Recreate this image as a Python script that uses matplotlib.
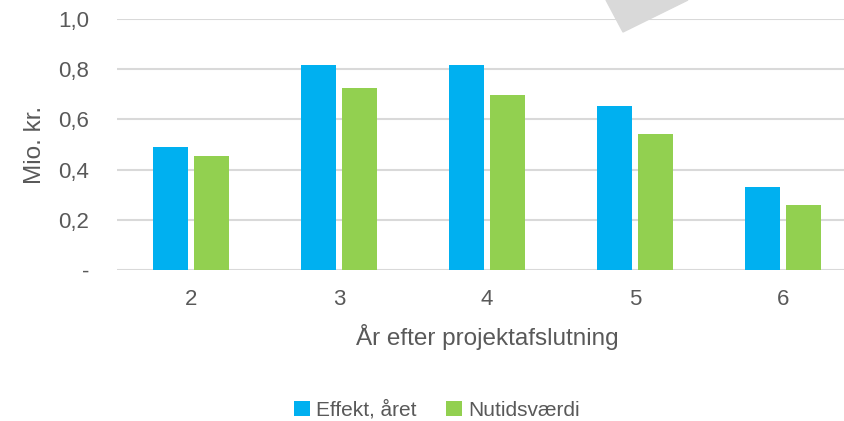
import numpy as np
import matplotlib.pyplot as plt
from matplotlib.patches import Polygon
from matplotlib.ticker import FixedLocator, FixedFormatter

years = ["2", "3", "4", "5", "6"]
effekt = [0.49, 0.817, 0.817, 0.653, 0.331]
nutid = [0.454, 0.725, 0.697, 0.542, 0.259]
yticks = [0.0, 0.2, 0.4, 0.6, 0.8, 1.0]
ylabels = ["-", "0,2", "0,4", "0,6", "0,8", "1,0"]

plt.rcParams['font.family'] = ['Liberation Sans', 'DejaVu Sans']
txt = '#595959'

fig = plt.figure(figsize=(8.45, 4.21), dpi=100)
W, H = 845, 421
ax = fig.add_axes([117 / W, (H - 270) / H, 740 / W, 251 / H])

x = np.arange(len(years))
bw = 0.236
gap = 0.047
ax.bar(x - (bw + gap) / 2, effekt, bw, color='#00B0F0', label='Effekt, året', zorder=3)
ax.bar(x + (bw + gap) / 2, nutid, bw, color='#92D050', label='Nutidsværdi', zorder=3)

ax.set_xlim(-0.5, len(years) - 0.5)
ax.set_ylim(0, 1.0)
ax.yaxis.set_major_locator(FixedLocator(yticks))
ax.yaxis.set_major_formatter(FixedFormatter(ylabels))
ax.set_xticks(x)
ax.set_xticklabels(years)
ax.grid(axis='y', color='#D9D9D9', linewidth=1.5, zorder=0)
for s in ax.spines.values():
    s.set_visible(False)
ax.tick_params(length=0, labelsize=16, colors=txt)
ax.tick_params(axis='y', pad=20)
ax.tick_params(axis='x', pad=14)
ax.set_xlabel('År efter projektafslutning', fontsize=17.5, color=txt, labelpad=10)
ax.set_ylabel('Mio. kr.', fontsize=17.5, color=txt, labelpad=9)

fig.legend(loc='center', bbox_to_anchor=(437 / W, 1 - 410 / H), ncol=2, frameon=False,
           fontsize=15, labelcolor=txt, handlelength=0.75, handleheight=0.75,
           handletextpad=0.3, columnspacing=1.4)

# grey shape cut off at the top edge
tri = Polygon([[606 / W, 1.0], [688 / W, 1.0], [623 / W, 1 - 32 / H]],
              closed=True, transform=fig.transFigure, color='#D9D9D9', zorder=10)
fig.patches.append(tri)

plt.savefig('out.png', dpi=100)
